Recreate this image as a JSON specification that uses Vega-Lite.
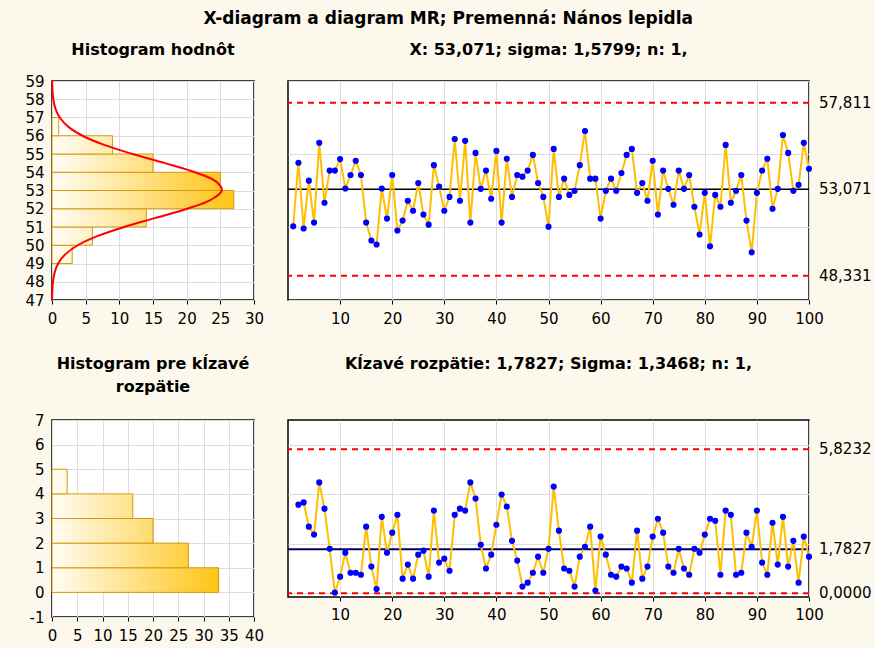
{
  "$schema": "https://vega.github.io/schema/vega-lite/v6.json",
  "background": "#FDF8EC",
  "padding": {"left": 24, "top": 10, "right": 2, "bottom": 4},
  "title": {"text": "X-diagram a diagram MR; Premenná: Nános lepidla", "fontSize": 17, "fontWeight": "bold", "font": "DejaVu Sans", "anchor": "middle", "offset": 13},
  "bounds": "flush",
  "columns": 2,
  "spacing": {"row": 120, "column": 34},
  "concat": [
    {
      "width": 202, "height": 219,
      "title": {"text": "Histogram hodnôt", "offset": 16, "frame": "group"},
      "layer": [
        {
          "data": {"values": [
            {"lo": 49, "hi": 50, "n": 3}, {"lo": 50, "hi": 51, "n": 6}, {"lo": 51, "hi": 52, "n": 14}, {"lo": 52, "hi": 53, "n": 27},
            {"lo": 53, "hi": 54, "n": 25}, {"lo": 54, "hi": 55, "n": 15}, {"lo": 55, "hi": 56, "n": 9}, {"lo": 56, "hi": 57, "n": 1}
          ]},
          "mark": {"type": "rect", "stroke": "#D29A0E", "strokeWidth": 1},
          "encoding": {
            "y": {"field": "lo", "type": "quantitative", "scale": {"domain": [47, 59], "nice": false, "zero": false},
                  "axis": {"values": [47,48,49,50,51,52,53,54,55,56,57,58,59], "labelOverlap": false, "labelFlush": false, "labelBound": false, "grid": true, "ticks": false, "labelPadding": 8, "title": null}},
            "y2": {"field": "hi"},
            "x": {"field": "n", "type": "quantitative", "scale": {"domain": [0, 30], "nice": false},
                  "axis": {"values": [0,5,10,15,20,25,30], "labelOverlap": false, "labelFlush": false, "labelBound": false, "grid": true, "tickSize": 4, "labelPadding": 7, "title": null}},
            "x2": {"datum": 0},
            "fill": {
              "condition": [
                {"test": "datum.n == 27", "value": {"gradient": "linear", "x1": 0, "y1": 0, "x2": 1, "y2": 0, "stops": [{"offset": 0, "color": "#FFFDF5"}, {"offset": 1, "color": "#FFC414"}]}},
                {"test": "datum.n == 25", "value": {"gradient": "linear", "x1": 0, "y1": 0, "x2": 1.08, "y2": 0, "stops": [{"offset": 0, "color": "#FFFDF5"}, {"offset": 1, "color": "#FFC414"}]}},
                {"test": "datum.n == 15", "value": {"gradient": "linear", "x1": 0, "y1": 0, "x2": 1.8, "y2": 0, "stops": [{"offset": 0, "color": "#FFFDF5"}, {"offset": 1, "color": "#FFC414"}]}},
                {"test": "datum.n == 14", "value": {"gradient": "linear", "x1": 0, "y1": 0, "x2": 1.93, "y2": 0, "stops": [{"offset": 0, "color": "#FFFDF5"}, {"offset": 1, "color": "#FFC414"}]}},
                {"test": "datum.n == 9", "value": {"gradient": "linear", "x1": 0, "y1": 0, "x2": 3, "y2": 0, "stops": [{"offset": 0, "color": "#FFFDF5"}, {"offset": 1, "color": "#FFC414"}]}},
                {"test": "datum.n == 6", "value": {"gradient": "linear", "x1": 0, "y1": 0, "x2": 4.5, "y2": 0, "stops": [{"offset": 0, "color": "#FFFDF5"}, {"offset": 1, "color": "#FFC414"}]}},
                {"test": "datum.n == 3", "value": {"gradient": "linear", "x1": 0, "y1": 0, "x2": 9, "y2": 0, "stops": [{"offset": 0, "color": "#FFFDF5"}, {"offset": 1, "color": "#FFC414"}]}}
              ],
              "value": {"gradient": "linear", "x1": 0, "y1": 0, "x2": 27, "y2": 0, "stops": [{"offset": 0, "color": "#FFFDF5"}, {"offset": 1, "color": "#FFC414"}]}
            }
          }
        },
        {
          "data": {"values": [
            {"v": 47, "c": 0.016}, {"v": 47.5, "c": 0.05}, {"v": 48, "c": 0.146}, {"v": 48.5, "c": 0.385}, {"v": 49, "c": 0.912},
            {"v": 49.5, "c": 1.96}, {"v": 50, "c": 3.82}, {"v": 50.5, "c": 6.72}, {"v": 51, "c": 10.7}, {"v": 51.5, "c": 15.4},
            {"v": 52, "c": 20.07}, {"v": 52.5, "c": 23.65}, {"v": 53, "c": 25.22}, {"v": 53.5, "c": 24.34}, {"v": 54, "c": 21.24},
            {"v": 54.5, "c": 16.77}, {"v": 55, "c": 11.98}, {"v": 55.5, "c": 7.74}, {"v": 56, "c": 4.53}, {"v": 56.5, "c": 2.4},
            {"v": 57, "c": 1.15}, {"v": 57.5, "c": 0.5}, {"v": 58, "c": 0.19}, {"v": 58.5, "c": 0.07}, {"v": 59, "c": 0.02}
          ]},
          "mark": {"type": "line", "color": "#FF0000", "strokeWidth": 2, "interpolate": "catmull-rom"},
          "encoding": {
            "x": {"field": "c", "type": "quantitative",
                  "axis": {"values": [0,5,10,15,20,25,30], "labelOverlap": false, "labelFlush": false, "labelBound": false, "grid": true, "tickSize": 4, "labelPadding": 7, "title": null}},
            "y": {"field": "v", "type": "quantitative",
                  "axis": {"values": [47,48,49,50,51,52,53,54,55,56,57,58,59], "labelOverlap": false, "labelFlush": false, "labelBound": false, "grid": true, "ticks": false, "labelPadding": 8, "title": null}},
            "order": {"field": "v", "type": "quantitative"}
          }
        }
      ]
    },
    {
      "width": 521, "height": 219,
      "title": {"text": "X: 53,071; sigma: 1,5799; n: 1,", "offset": 23, "frame": "group"},
      "layer": [
        {
          "data": {"values": [{"v": 57.811}, {"v": 48.331}]},
          "mark": {"type": "rule", "color": "#FF0000", "strokeWidth": 2, "strokeDash": [6, 5]},
          "encoding": {
            "y": {"field": "v", "type": "quantitative", "scale": {"domain": [47, 59], "nice": false, "zero": false},
                  "axis": {"values": [47,48,49,50,51,52,53,54,55,56,57,58,59], "grid": true, "labels": false, "ticks": false, "title": null}}
          }
        },
        {
          "data": {"values": [{"v": 53.071}]},
          "mark": {"type": "rule", "color": "#000000", "strokeWidth": 1.5},
          "encoding": {
            "y": {"field": "v", "type": "quantitative"}
          }
        },
        {
          "data": {"values": [{"v": 57.811, "t": "57,811"}, {"v": 53.071, "t": "53,071"}, {"v": 48.331, "t": "48,331"}]},
          "mark": {"type": "text", "align": "left", "baseline": "middle", "dx": 10, "fontSize": 15, "font": "DejaVu Sans", "color": "#000000", "clip": false},
          "encoding": {
            "y": {"field": "v", "type": "quantitative"},
            "x": {"datum": 100},
            "text": {"field": "t"}
          }
        },
        {
          "data": {"name": "xdata", "values": [
            {"i":1,"v":51.04},{"i":2,"v":54.52},{"i":3,"v":50.92},{"i":4,"v":53.54},{"i":5,"v":51.24},{"i":6,"v":55.61},{"i":7,"v":52.33},{"i":8,"v":54.09},{"i":9,"v":54.09},{"i":10,"v":54.72},
            {"i":11,"v":53.11},{"i":12,"v":53.85},{"i":13,"v":54.63},{"i":14,"v":53.85},{"i":15,"v":51.24},{"i":16,"v":50.26},{"i":17,"v":50.04},{"i":18,"v":53.11},{"i":19,"v":51.46},{"i":20,"v":53.85},
            {"i":21,"v":50.81},{"i":22,"v":51.35},{"i":23,"v":52.44},{"i":24,"v":51.89},{"i":25,"v":53.41},{"i":26,"v":51.68},{"i":27,"v":51.13},{"i":28,"v":54.39},{"i":29,"v":53.22},{"i":30,"v":51.89},
            {"i":31,"v":52.65},{"i":32,"v":55.82},{"i":33,"v":52.44},{"i":34,"v":55.72},{"i":35,"v":51.24},{"i":36,"v":55.06},{"i":37,"v":53.09},{"i":38,"v":54.09},{"i":39,"v":52.55},{"i":40,"v":55.17},
            {"i":41,"v":51.24},{"i":42,"v":54.74},{"i":43,"v":52.65},{"i":44,"v":53.85},{"i":45,"v":53.76},{"i":46,"v":54.09},{"i":47,"v":54.95},{"i":48,"v":53.41},{"i":49,"v":52.65},{"i":50,"v":51.02},
            {"i":51,"v":55.28},{"i":52,"v":52.65},{"i":53,"v":53.65},{"i":54,"v":52.76},{"i":55,"v":52.98},{"i":56,"v":54.39},{"i":57,"v":56.26},{"i":58,"v":53.65},{"i":59,"v":53.65},{"i":60,"v":51.46},
            {"i":61,"v":52.98},{"i":62,"v":53.65},{"i":63,"v":52.98},{"i":64,"v":53.96},{"i":65,"v":54.95},{"i":66,"v":55.28},{"i":67,"v":52.87},{"i":68,"v":53.41},{"i":69,"v":52.44},{"i":70,"v":54.63},
            {"i":71,"v":51.68},{"i":72,"v":54.09},{"i":73,"v":53.09},{"i":74,"v":52.22},{"i":75,"v":54.09},{"i":76,"v":53.09},{"i":77,"v":53.85},{"i":78,"v":52.11},{"i":79,"v":50.59},{"i":80,"v":52.87},
            {"i":81,"v":49.94},{"i":82,"v":52.76},{"i":83,"v":52.11},{"i":84,"v":55.5},{"i":85,"v":52.33},{"i":86,"v":52.98},{"i":87,"v":53.85},{"i":88,"v":51.35},{"i":89,"v":49.61},{"i":90,"v":52.87},
            {"i":91,"v":54.09},{"i":92,"v":54.74},{"i":93,"v":52.0},{"i":94,"v":53.09},{"i":95,"v":56.04},{"i":96,"v":55.06},{"i":97,"v":52.98},{"i":98,"v":53.31},{"i":99,"v":55.61},{"i":100,"v":54.19}
          ]},
          "mark": {"type": "line", "color": "#FFBF00", "strokeWidth": 2},
          "encoding": {
            "x": {"field": "i", "type": "quantitative", "scale": {"domain": [0, 100], "nice": false, "zero": false},
                  "axis": {"values": [10,20,30,40,50,60,70,80,90,100], "labelOverlap": false, "labelFlush": false, "labelBound": false, "grid": true, "tickSize": 4, "labelPadding": 7, "title": null}},
            "y": {"field": "v", "type": "quantitative"}
          }
        },
        {
          "data": {"name": "xdata"},
          "mark": {"type": "point", "filled": true, "color": "#0000FF", "size": 38, "opacity": 1},
          "encoding": {
            "x": {"field": "i", "type": "quantitative"},
            "y": {"field": "v", "type": "quantitative"}
          }
        }
      ]
    },
    {
      "width": 202, "height": 197,
      "title": {"text": ["Histogram pre kĺzavé", "rozpätie"], "offset": 18, "lineHeight": 23, "frame": "group"},
      "data": {"values": [
        {"lo": 0, "hi": 1, "n": 33}, {"lo": 1, "hi": 2, "n": 27}, {"lo": 2, "hi": 3, "n": 20}, {"lo": 3, "hi": 4, "n": 16}, {"lo": 4, "hi": 5, "n": 3}
      ]},
      "mark": {"type": "rect", "stroke": "#D29A0E", "strokeWidth": 1},
      "encoding": {
        "y": {"field": "lo", "type": "quantitative", "scale": {"domain": [-1, 7], "nice": false, "zero": false},
              "axis": {"values": [-1,0,1,2,3,4,5,6,7], "labelExpr": "replace(datum.label, '−', '-')", "labelOverlap": false, "labelFlush": false, "labelBound": false, "grid": true, "ticks": false, "labelPadding": 8, "title": null}},
        "y2": {"field": "hi"},
        "x": {"field": "n", "type": "quantitative", "scale": {"domain": [0, 40], "nice": false},
              "axis": {"values": [0,5,10,15,20,25,30,35,40], "labelOverlap": false, "labelFlush": false, "labelBound": false, "grid": true, "tickSize": 4, "labelPadding": 7, "title": null}},
        "x2": {"datum": 0},
        "fill": {
          "condition": [
            {"test": "datum.n == 33", "value": {"gradient": "linear", "x1": 0, "y1": 0, "x2": 1, "y2": 0, "stops": [{"offset": 0, "color": "#FFFDF5"}, {"offset": 1, "color": "#FFC414"}]}},
            {"test": "datum.n == 27", "value": {"gradient": "linear", "x1": 0, "y1": 0, "x2": 1.222, "y2": 0, "stops": [{"offset": 0, "color": "#FFFDF5"}, {"offset": 1, "color": "#FFC414"}]}},
            {"test": "datum.n == 20", "value": {"gradient": "linear", "x1": 0, "y1": 0, "x2": 1.65, "y2": 0, "stops": [{"offset": 0, "color": "#FFFDF5"}, {"offset": 1, "color": "#FFC414"}]}},
            {"test": "datum.n == 16", "value": {"gradient": "linear", "x1": 0, "y1": 0, "x2": 2.0625, "y2": 0, "stops": [{"offset": 0, "color": "#FFFDF5"}, {"offset": 1, "color": "#FFC414"}]}}
          ],
          "value": {"gradient": "linear", "x1": 0, "y1": 0, "x2": 11, "y2": 0, "stops": [{"offset": 0, "color": "#FFFDF5"}, {"offset": 1, "color": "#FFC414"}]}
        }
      }
    },
    {
      "width": 521, "height": 177,
      "title": {"text": "Kĺzavé rozpätie: 1,7827; Sigma: 1,3468; n: 1,", "offset": 48, "frame": "group"},
      "layer": [
        {
          "data": {"values": [{"v": 5.8232}, {"v": 0}]},
          "mark": {"type": "rule", "color": "#FF0000", "strokeWidth": 2, "strokeDash": [6, 5]},
          "encoding": {
            "y": {"field": "v", "type": "quantitative", "scale": {"domain": [-0.15, 7], "nice": false, "zero": false},
                  "axis": {"values": [0,1,2,3,4,5,6,7], "grid": true, "labels": false, "ticks": false, "title": null}}
          }
        },
        {
          "data": {"values": [{"v": 1.7827}]},
          "mark": {"type": "rule", "color": "#000066", "strokeWidth": 2},
          "encoding": {
            "y": {"field": "v", "type": "quantitative"}
          }
        },
        {
          "data": {"values": [{"v": 5.8232, "t": "5,8232"}, {"v": 1.7827, "t": "1,7827"}, {"v": 0, "t": "0,0000"}]},
          "mark": {"type": "text", "align": "left", "baseline": "middle", "dx": 10, "fontSize": 15, "font": "DejaVu Sans", "color": "#000000", "clip": false},
          "encoding": {
            "y": {"field": "v", "type": "quantitative"},
            "x": {"datum": 100},
            "text": {"field": "t"}
          }
        },
        {
          "data": {"name": "mrdata", "values": [
            {"i":2,"r":3.58},{"i":3,"r":3.67},{"i":4,"r":2.69},{"i":5,"r":2.37},{"i":6,"r":4.48},{"i":7,"r":3.42},{"i":8,"r":1.8},{"i":9,"r":0.03},{"i":10,"r":0.67},
            {"i":11,"r":1.64},{"i":12,"r":0.83},{"i":13,"r":0.83},{"i":14,"r":0.75},{"i":15,"r":2.69},{"i":16,"r":1.08},{"i":17,"r":0.17},{"i":18,"r":3.09},{"i":19,"r":1.64},{"i":20,"r":2.45},
            {"i":21,"r":3.17},{"i":22,"r":0.59},{"i":23,"r":1.16},{"i":24,"r":0.59},{"i":25,"r":1.56},{"i":26,"r":1.72},{"i":27,"r":0.67},{"i":28,"r":3.34},{"i":29,"r":1.24},{"i":30,"r":1.4},
            {"i":31,"r":0.91},{"i":32,"r":3.17},{"i":33,"r":3.42},{"i":34,"r":3.34},{"i":35,"r":4.48},{"i":36,"r":3.83},{"i":37,"r":1.96},{"i":38,"r":1.0},{"i":39,"r":1.56},{"i":40,"r":2.77},
            {"i":41,"r":3.99},{"i":42,"r":3.5},{"i":43,"r":2.12},{"i":44,"r":1.32},{"i":45,"r":0.27},{"i":46,"r":0.43},{"i":47,"r":0.83},{"i":48,"r":1.48},{"i":49,"r":0.83},{"i":50,"r":1.8},
            {"i":51,"r":4.31},{"i":52,"r":2.53},{"i":53,"r":1.0},{"i":54,"r":0.91},{"i":55,"r":0.27},{"i":56,"r":1.48},{"i":57,"r":1.88},{"i":58,"r":2.69},{"i":59,"r":0.11},{"i":60,"r":2.29},
            {"i":61,"r":1.56},{"i":62,"r":0.75},{"i":63,"r":0.67},{"i":64,"r":1.08},{"i":65,"r":1.0},{"i":66,"r":0.43},{"i":67,"r":2.53},{"i":68,"r":0.59},{"i":69,"r":1.08},{"i":70,"r":2.29},
            {"i":71,"r":3.01},{"i":72,"r":2.45},{"i":73,"r":1.08},{"i":74,"r":0.83},{"i":75,"r":1.8},{"i":76,"r":1.0},{"i":77,"r":0.75},{"i":78,"r":1.8},{"i":79,"r":1.64},{"i":80,"r":2.37},
            {"i":81,"r":3.01},{"i":82,"r":2.93},{"i":83,"r":0.75},{"i":84,"r":3.34},{"i":85,"r":3.17},{"i":86,"r":0.75},{"i":87,"r":0.83},{"i":88,"r":2.45},{"i":89,"r":1.88},{"i":90,"r":3.34},
            {"i":91,"r":1.24},{"i":92,"r":0.75},{"i":93,"r":2.85},{"i":94,"r":1.16},{"i":95,"r":3.09},{"i":96,"r":1.08},{"i":97,"r":2.12},{"i":98,"r":0.43},{"i":99,"r":2.29},{"i":100,"r":1.48}
          ]},
          "mark": {"type": "line", "color": "#FFBF00", "strokeWidth": 2},
          "encoding": {
            "x": {"field": "i", "type": "quantitative", "scale": {"domain": [0, 100], "nice": false, "zero": false},
                  "axis": {"values": [10,20,30,40,50,60,70,80,90,100], "labelOverlap": false, "labelFlush": false, "labelBound": false, "grid": true, "tickSize": 4, "labelPadding": 6, "title": null}},
            "y": {"field": "r", "type": "quantitative"}
          }
        },
        {
          "data": {"name": "mrdata"},
          "mark": {"type": "point", "filled": true, "color": "#0000FF", "size": 38, "opacity": 1},
          "encoding": {
            "x": {"field": "i", "type": "quantitative"},
            "y": {"field": "r", "type": "quantitative"}
          }
        }
      ]
    }
  ],
  "config": {
    "font": "DejaVu Sans",
    "view": {"stroke": "#000000", "strokeWidth": 1.5, "fill": "#FFFFFF"},
    "axis": {"labelFont": "DejaVu Sans", "labelFontSize": 15, "labelColor": "#000000", "gridColor": "#DCDCDC", "gridWidth": 1, "domain": false, "tickColor": "#000000", "labelOverlap": false, "labelFlush": false},
    "title": {"font": "DejaVu Sans", "fontSize": 16, "fontWeight": "bold", "color": "#000000", "anchor": "middle", "baseline": "bottom"}
  }
}
